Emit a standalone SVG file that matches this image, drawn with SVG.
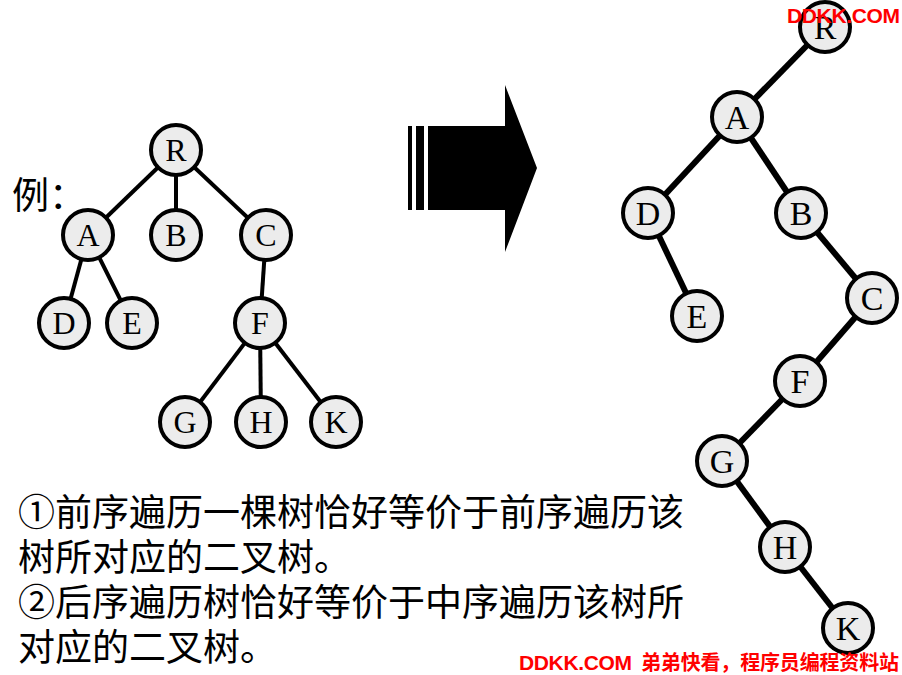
<svg xmlns="http://www.w3.org/2000/svg" width="902" height="675" viewBox="0 0 902 675">
<style>
.n circle{fill:#ececec;stroke:#000;stroke-width:4}
.n text{font-family:"Liberation Serif","Times New Roman",serif;font-size:32px;text-anchor:middle;fill:#000}
.big text{font-size:34px}
.e1 line{stroke:#000;stroke-width:4}
.e2 line{stroke:#000;stroke-width:6}
.t{font-family:"Liberation Serif","Noto Sans CJK SC",serif;font-size:37px;fill:#000}
.wm{font-family:"Liberation Sans","Noto Sans CJK SC",sans-serif;font-weight:bold;fill:#ff0000}
</style>
<rect width="902" height="675" fill="#fff"/>
<g id="connectors">
<g class="e1">
<line x1="176" y1="150" x2="88" y2="235"/>
<line x1="176" y1="150" x2="176" y2="235"/>
<line x1="176" y1="150" x2="266" y2="235"/>
<line x1="88" y1="235" x2="64" y2="323"/>
<line x1="88" y1="235" x2="132" y2="323"/>
<line x1="266" y1="235" x2="260" y2="323"/>
<line x1="260" y1="323" x2="185" y2="422"/>
<line x1="260" y1="323" x2="261" y2="422"/>
<line x1="260" y1="323" x2="336" y2="422"/>
</g>
<g class="e2">
<line x1="825" y1="27" x2="737" y2="117"/>
<line x1="737" y1="117" x2="648" y2="213"/>
<line x1="737" y1="117" x2="801" y2="213"/>
<line x1="648" y1="213" x2="697" y2="316"/>
<line x1="801" y1="213" x2="872" y2="298"/>
<line x1="872" y1="298" x2="800" y2="381"/>
<line x1="800" y1="381" x2="722" y2="461"/>
<line x1="722" y1="461" x2="785" y2="547"/>
<line x1="785" y1="547" x2="848" y2="628"/>
</g>
</g>
<g id="L_R" class="n"><circle cx="176" cy="150" r="25"/><text x="176" y="161">R</text></g>
<g id="L_A" class="n"><circle cx="88" cy="235" r="25"/><text x="88" y="246">A</text></g>
<g id="L_B" class="n"><circle cx="176" cy="235" r="25"/><text x="176" y="246">B</text></g>
<g id="L_C" class="n"><circle cx="266" cy="235" r="25"/><text x="266" y="246">C</text></g>
<g id="L_D" class="n"><circle cx="64" cy="323" r="25"/><text x="64" y="334">D</text></g>
<g id="L_E" class="n"><circle cx="132" cy="323" r="25"/><text x="132" y="334">E</text></g>
<g id="L_F" class="n"><circle cx="260" cy="323" r="25"/><text x="260" y="334">F</text></g>
<g id="L_G" class="n"><circle cx="185" cy="422" r="25"/><text x="185" y="433">G</text></g>
<g id="L_H" class="n"><circle cx="261" cy="422" r="25"/><text x="261" y="433">H</text></g>
<g id="L_K" class="n"><circle cx="336" cy="422" r="25"/><text x="336" y="433">K</text></g>
<g id="R_R" class="n big"><circle cx="825" cy="27" r="25"/><text x="825" y="39">R</text></g>
<g id="R_A" class="n big"><circle cx="737" cy="117" r="25"/><text x="737" y="129">A</text></g>
<g id="R_D" class="n big"><circle cx="648" cy="213" r="25"/><text x="648" y="225">D</text></g>
<g id="R_B" class="n big"><circle cx="801" cy="213" r="25"/><text x="801" y="225">B</text></g>
<g id="R_E" class="n big"><circle cx="697" cy="316" r="25"/><text x="697" y="328">E</text></g>
<g id="R_C" class="n big"><circle cx="872" cy="298" r="25"/><text x="872" y="310">C</text></g>
<g id="R_F" class="n big"><circle cx="800" cy="381" r="25"/><text x="800" y="393">F</text></g>
<g id="R_G" class="n big"><circle cx="722" cy="461" r="25"/><text x="722" y="473">G</text></g>
<g id="R_H" class="n big"><circle cx="785" cy="547" r="25"/><text x="785" y="559">H</text></g>
<g id="R_K" class="n big"><circle cx="848" cy="628" r="25"/><text x="848" y="640">K</text></g>
<g id="arrow" fill="#000">
<rect x="408" y="126" width="4" height="84"/>
<rect x="416" y="126" width="8" height="84"/>
<polygon points="428,126 505,126 505,85 537,168 505,252 505,210 428,210"/>
</g>
<text class="t" x="12" y="209">例：</text>
<text class="t" x="18" y="526">①前序遍历一棵树恰好等价于前序遍历该</text>
<text class="t" x="18" y="571">树所对应的二叉树。</text>
<text class="t" x="18" y="616">②后序遍历树恰好等价于中序遍历该树所</text>
<text class="t" x="18" y="661">对应的二叉树。</text>
<text class="wm" x="787" y="23" font-size="21" textLength="113">DDKK.COM</text>
<text class="wm" x="519" y="670" font-size="21" textLength="113">DDKK.COM</text>
<text class="wm" x="641" y="670" font-size="20" textLength="258">弟弟快看，程序员编程资料站</text>
</svg>
